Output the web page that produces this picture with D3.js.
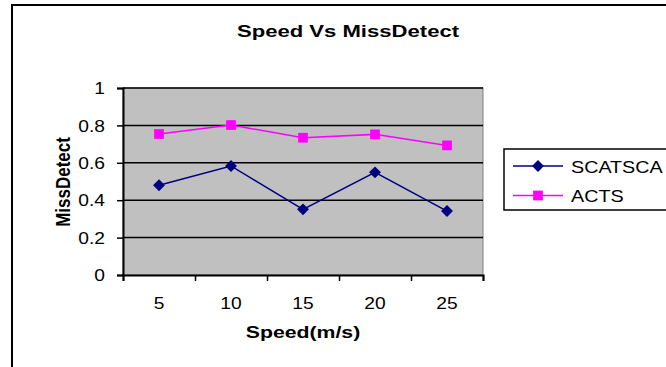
<!DOCTYPE html>
<html>
<head>
<meta charset="utf-8">
<script src="https://cdn.jsdelivr.net/npm/d3@7"></script>
<style>
  html, body { margin: 0; padding: 0; background: #fff; }
  svg { display: block; }
  text { font-family: "Liberation Sans", Arial, sans-serif; fill: #000; }
</style>
</head>
<body>
<svg id="chart" width="666" height="367"></svg>
<script>
const categories = ["5", "10", "15", "20", "25"];
const scatsca = [0.48, 0.583, 0.351, 0.549, 0.342];
const acts = [0.754, 0.802, 0.734, 0.752, 0.693];
const yTicks = [0, 0.2, 0.4, 0.6, 0.8, 1];
const seriesNames = ["SCATSCA", "ACTS"];
const seriesColors = ["#000080", "#FF00FF"];

const svg = d3.select("#chart");
const SX = 1.2; // horizontal stretch of the original text

// outer chart border
svg.append("rect").attr("x", 12).attr("y", 5).attr("width", 700).attr("height", 420)
  .attr("fill", "none").attr("stroke", "#000").attr("stroke-width", 2);

const plot = { left: 123, right: 483, top: 88, bottom: 275 };
const x = d3.scaleBand().domain(categories).range([plot.left, plot.right]);
const xb = d3.scaleLinear().domain([0, categories.length]).range([plot.left, plot.right]);
const y = d3.scaleLinear().domain([0, 1]).range([plot.bottom, plot.top]);

// plot area
svg.append("rect").attr("x", plot.left).attr("y", plot.top)
  .attr("width", plot.right - plot.left).attr("height", plot.bottom - plot.top)
  .attr("fill", "#c0c0c0").attr("stroke", "#808080").attr("stroke-width", 1);

// gridlines
svg.append("g").selectAll("line").data(yTicks.filter(d => d > 0)).join("line")
  .attr("x1", plot.left).attr("x2", plot.right)
  .attr("y1", d => y(d)).attr("y2", d => y(d))
  .attr("stroke", "#000").attr("stroke-width", 1.5);

// y axis
const yAxis = svg.append("g").attr("transform", `translate(${plot.left},0)`)
  .call(d3.axisLeft(y).tickValues(yTicks).tickSize(6).tickPadding(12).tickFormat(d3.format("")));
yAxis.select(".domain").attr("stroke", "#000").attr("stroke-width", 2);
yAxis.selectAll(".tick line").attr("stroke", "#000").attr("stroke-width", 1.5);
yAxis.selectAll(".tick text")
  .attr("font-size", 16).attr("fill", "#000").attr("font-family", null)
  .attr("x", -18 / SX).attr("dy", "0.36em").attr("transform", `scale(${SX},1)`);

// x axis ticks at category boundaries
const xAxisTicks = svg.append("g").attr("transform", `translate(0,${plot.bottom})`)
  .call(d3.axisBottom(xb).tickValues(d3.range(categories.length + 1)).tickSize(6).tickFormat(""));
xAxisTicks.select(".domain").attr("stroke", "#000").attr("stroke-width", 2);
xAxisTicks.selectAll(".tick line").attr("stroke", "#000").attr("stroke-width", 1.5);

// x axis labels at category centres
const xAxisLabels = svg.append("g").attr("transform", `translate(0,${plot.bottom})`)
  .call(d3.axisBottom(x).tickSize(0).tickPadding(0));
xAxisLabels.select(".domain").remove();
xAxisLabels.selectAll(".tick text")
  .attr("font-size", 16).attr("fill", "#000").attr("font-family", null)
  .attr("y", 34).attr("dy", null).attr("transform", `scale(${SX},1)`);

// titles
svg.append("text").attr("transform", `translate(348,37) scale(1.3,1)`)
  .attr("text-anchor", "middle").attr("font-size", 17).attr("font-weight", "bold")
  .text("Speed Vs MissDetect");
svg.append("text").attr("transform", `translate(303,338) scale(1.25,1)`)
  .attr("text-anchor", "middle").attr("font-size", 17).attr("font-weight", "bold")
  .text("Speed(m/s)");
svg.append("text").attr("transform", `translate(70,182) scale(1.2,1) rotate(-90)`)
  .attr("text-anchor", "middle").attr("font-size", 17).attr("font-weight", "bold")
  .text("MissDetect");

// series
const series = [scatsca, acts];
const line = d3.line().x((d, i) => x(categories[i]) + x.bandwidth() / 2).y(d => y(d));
const diamond = d3.symbol().type(d3.symbolDiamond2).size(90);
const square = d3.symbol().type(d3.symbolSquare2).size(121);
const shapes = [diamond, square];

series.forEach((vals, si) => {
  svg.append("path").datum(vals).attr("d", line)
    .attr("fill", "none").attr("stroke", seriesColors[si]).attr("stroke-width", 1.5);
  svg.append("g").selectAll("path").data(vals).join("path")
    .attr("transform", (d, i) => `translate(${x(categories[i]) + x.bandwidth() / 2},${y(d)})`)
    .attr("d", shapes[si]).attr("fill", seriesColors[si]);
});

// legend
const lg = svg.append("g");
lg.append("rect").attr("x", 504).attr("y", 149).attr("width", 170).attr("height", 61)
  .attr("fill", "#fff").attr("stroke", "#000").attr("stroke-width", 1.5);
const legY = [166, 195.5];
seriesNames.forEach((name, si) => {
  lg.append("line").attr("x1", 513).attr("x2", 563).attr("y1", legY[si]).attr("y2", legY[si])
    .attr("stroke", seriesColors[si]).attr("stroke-width", 1.5);
  lg.append("path").attr("transform", `translate(538,${legY[si]})`)
    .attr("d", shapes[si]).attr("fill", seriesColors[si]);
  lg.append("text").attr("transform", `translate(571,${legY[si] + 6.5}) scale(1.16,1)`)
    .attr("font-size", 17).text(name);
});
</script>
</body>
</html>
